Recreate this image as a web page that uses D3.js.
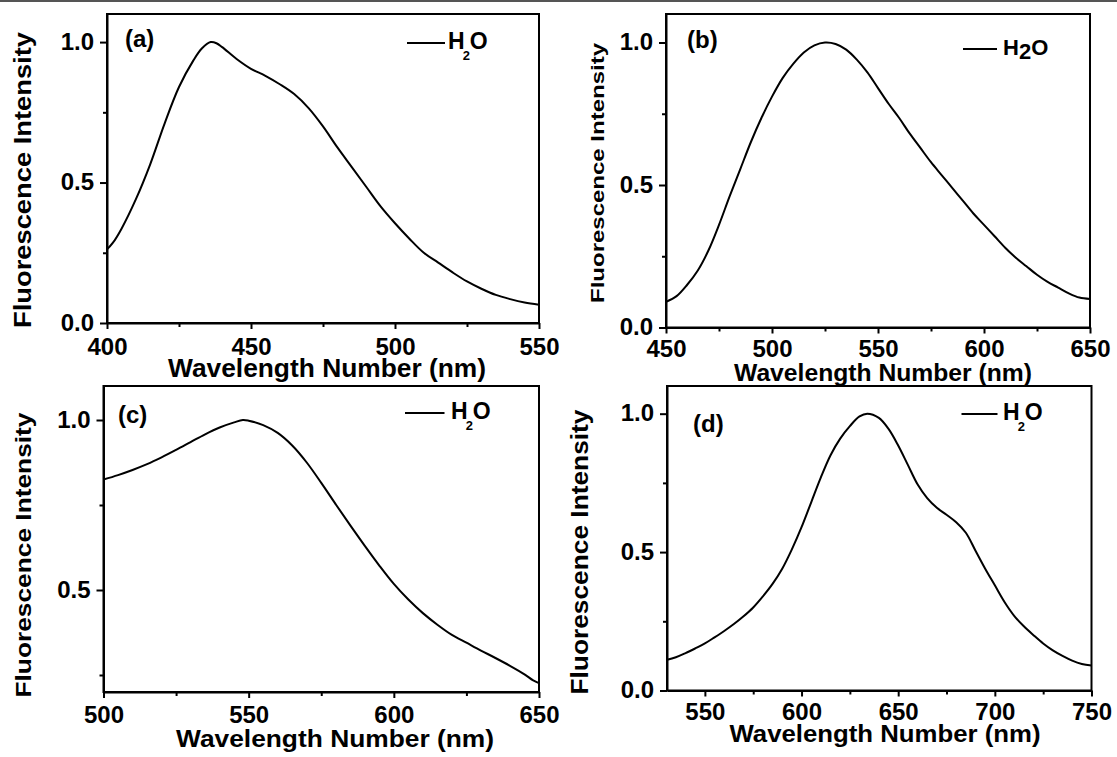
<!DOCTYPE html>
<html>
<head>
<meta charset="utf-8">
<script src="https://cdn.jsdelivr.net/npm/d3@7"></script>
<style>
  body { margin: 0; background: #fff; }
  svg { display: block; }
  text { font-family: "Liberation Sans", Arial, sans-serif; font-weight: bold; fill: #000; }
</style>
</head>
<body>
<div id="chart"></div>
<script>
// Spectra (normalised intensity)
const wavelengthA = [400, 402, 405, 410, 415, 420, 425, 430, 433, 436, 438, 440, 445, 450, 455, 460, 465, 470, 475, 480, 485, 490, 495, 500, 505, 510, 515, 520, 525, 530, 535, 540, 545, 550];
const intensityA  = [0.262, 0.285, 0.335, 0.44, 0.565, 0.71, 0.84, 0.935, 0.978, 1.0, 0.996, 0.982, 0.94, 0.905, 0.88, 0.85, 0.815, 0.765, 0.70, 0.625, 0.555, 0.485, 0.415, 0.355, 0.30, 0.25, 0.215, 0.18, 0.148, 0.122, 0.10, 0.085, 0.073, 0.065];

const wavelengthB = [450, 455, 460, 465, 470, 475, 480, 485, 490, 495, 500, 505, 510, 515, 520, 525, 530, 535, 540, 545, 550, 555, 560, 565, 570, 575, 580, 585, 590, 595, 600, 605, 610, 615, 620, 625, 630, 635, 640, 645, 650];
const intensityB  = [0.09, 0.11, 0.15, 0.20, 0.27, 0.36, 0.46, 0.555, 0.65, 0.735, 0.81, 0.875, 0.925, 0.965, 0.99, 1.0, 0.995, 0.975, 0.94, 0.895, 0.84, 0.785, 0.735, 0.68, 0.63, 0.58, 0.535, 0.49, 0.445, 0.40, 0.36, 0.32, 0.28, 0.245, 0.215, 0.185, 0.16, 0.14, 0.12, 0.105, 0.10];

const wavelengthC = [500, 505, 510, 515, 520, 525, 530, 535, 540, 545, 548, 550, 555, 560, 565, 570, 575, 580, 585, 590, 595, 600, 605, 610, 615, 620, 625, 630, 635, 640, 645, 648, 650];
const intensityC  = [0.825, 0.838, 0.853, 0.87, 0.89, 0.912, 0.935, 0.958, 0.978, 0.993, 1.0, 0.998, 0.985, 0.962, 0.925, 0.875, 0.815, 0.752, 0.69, 0.63, 0.572, 0.518, 0.472, 0.432, 0.398, 0.368, 0.345, 0.322, 0.30, 0.277, 0.252, 0.234, 0.226];

const wavelengthD = [530, 535, 540, 545, 550, 555, 560, 565, 570, 575, 580, 585, 590, 595, 600, 605, 610, 615, 620, 625, 630, 634, 640, 645, 650, 655, 660, 665, 670, 675, 680, 685, 690, 695, 700, 705, 710, 715, 720, 725, 730, 735, 740, 745, 750];
const intensityD  = [0.11, 0.12, 0.135, 0.152, 0.17, 0.192, 0.215, 0.24, 0.268, 0.30, 0.34, 0.385, 0.44, 0.51, 0.59, 0.68, 0.77, 0.85, 0.91, 0.955, 0.99, 1.0, 0.985, 0.945, 0.885, 0.815, 0.745, 0.695, 0.66, 0.635, 0.608, 0.57, 0.505, 0.44, 0.38, 0.32, 0.27, 0.232, 0.20, 0.17, 0.145, 0.125, 0.108, 0.096, 0.09];

// Tick values
const xTicksA = [400, 450, 500, 550], xMinorA = [425, 475, 525];
const xTicksB = [450, 500, 550, 600, 650], xMinorB = [475, 525, 575, 625];
const xTicksC = [500, 550, 600, 650], xMinorC = [525, 575, 625];
const xTicksD = [550, 600, 650, 700, 750], xMinorD = [575, 625, 675, 725];
const yTicksABD = [0.0, 0.5, 1.0], yMinorABD = [0.25, 0.75];
const yTicksC = [0.5, 1.0], yMinorC = [0.25, 0.75];

const panelTags = ["(a)", "(b)", "(c)", "(d)"];
const seriesName = "H2O";
const xTitle = "Wavelength Number (nm)";
const yTitle = "Fluorescence Intensity";

const W = 1117, H = 757;

// layout of each panel (pixel boxes measured on the figure)
const panels = [
  { xs: wavelengthA, ys: intensityA, xDom: [400, 550], yDom: [0, 1.1], xT: xTicksA, xM: xMinorA, yT: yTicksABD, yM: yMinorABD,
    box: [107, 539, 14, 323], tag: [125, 47], leg: [407, 445, 43, 448], sub: "small",
    tickOff: 32, xt: { cx: 327, y: 377, len: 318, fs: 25 }, yt: { x: 31, cy: 180, len: 296, fs: 23 } },
  { xs: wavelengthB, ys: intensityB, xDom: [450, 650], yDom: [0, 1.1], xT: xTicksB, xM: xMinorB, yT: yTicksABD, yM: yMinorABD,
    box: [666, 1090, 14, 327.5], tag: [687, 48], leg: [963, 997, 49, 1003], sub: "big",
    tickOff: 29, xt: { cx: 883, y: 381, len: 298, fs: 24 }, yt: { x: 604, cy: 173, len: 260, fs: 19 } },
  { xs: wavelengthC, ys: intensityC, xDom: [500, 650], yDom: [0.2, 1.1], xT: xTicksC, xM: xMinorC, yT: yTicksC, yM: yMinorC,
    box: [103.5, 539, 386, 692], tag: [118, 423], leg: [405, 444.5, 413, 451], sub: "small",
    tickOff: 31, xt: { cx: 335, y: 747, len: 318, fs: 24 }, yt: { x: 31, cy: 555, len: 285, fs: 22 } },
  { xs: wavelengthD, ys: intensityD, xDom: [530.4, 750], yDom: [0, 1.1], xT: xTicksD, xM: xMinorD, yT: yTicksABD, yM: yMinorABD,
    box: [667, 1091.5, 386, 690.5], tag: [693, 432], leg: [961.5, 997.5, 414, 1003], sub: "small",
    tickOff: 29, xt: { cx: 885, y: 742, len: 311, fs: 24 }, yt: { x: 588, cy: 552, len: 285, fs: 23 } }
];

const svg = d3.select("#chart").append("svg")
  .attr("width", W)
  .attr("height", H);

svg.append("rect").attr("width", W).attr("height", H).attr("fill", "#fff");

// thin grey rule along the top edge
svg.append("line")
  .attr("x1", 0).attr("x2", W).attr("y1", 1).attr("y2", 1)
  .attr("stroke", "#555").attr("stroke-width", 2);

panels.forEach((p, i) => {
  const [x0, x1, y0, y1] = p.box;
  const x = d3.scaleLinear().domain(p.xDom).range([x0, x1]);
  const y = d3.scaleLinear().domain(p.yDom).range([y1, y0]);
  const g = svg.append("g");

  // frame
  g.append("rect")
    .attr("x", x0).attr("y", y0)
    .attr("width", x1 - x0).attr("height", y1 - y0)
    .attr("fill", "none").attr("stroke", "#000").attr("stroke-width", 2);

  // spectrum
  g.append("path")
    .datum(p.xs.map((v, k) => [v, p.ys[k]]))
    .attr("fill", "none")
    .attr("stroke", "#000")
    .attr("stroke-width", 2)
    .attr("stroke-linejoin", "round")
    .attr("d", d3.line().x(d => x(d[0])).y(d => y(d[1])).curve(d3.curveCatmullRom.alpha(0.5)));

  // bottom axis
  const xa = g.append("g")
    .attr("transform", `translate(0,${y1})`)
    .call(d3.axisBottom(x).tickValues(p.xT).tickSize(6).tickSizeOuter(0).tickFormat(d3.format("d")));
  xa.selectAll("text").attr("dy", null).attr("y", p.tickOff).style("font-size", "24px");
  g.append("g")
    .attr("transform", `translate(0,${y1})`)
    .call(d3.axisBottom(x).tickValues(p.xM).tickSize(4).tickFormat(""))
    .select(".domain").remove();

  // left axis
  const ya = g.append("g")
    .attr("transform", `translate(${x0},0)`)
    .call(d3.axisLeft(y).tickValues(p.yT).tickSize(7).tickPadding(6).tickSizeOuter(0).tickFormat(d3.format(".1f")));
  ya.selectAll("text").attr("dy", "0.3em").style("font-size", "24px");
  g.append("g")
    .attr("transform", `translate(${x0},0)`)
    .call(d3.axisLeft(y).tickValues(p.yM).tickSize(4).tickFormat(""))
    .select(".domain").remove();

  g.selectAll(".domain").attr("stroke-width", 2);
  g.selectAll(".tick line").attr("stroke-width", 2);
  g.selectAll(".tick text").attr("fill", "#000").style("font-family", '"Liberation Sans", Arial, sans-serif').style("font-weight", "bold");

  // axis titles
  g.append("text")
    .attr("x", p.xt.cx).attr("y", p.xt.y)
    .attr("text-anchor", "middle")
    .attr("textLength", p.xt.len).attr("lengthAdjust", "spacingAndGlyphs")
    .style("font-size", p.xt.fs + "px")
    .text(xTitle);

  g.append("text")
    .attr("transform", `translate(${p.yt.x},${p.yt.cy}) rotate(-90)`)
    .attr("text-anchor", "middle")
    .attr("textLength", p.yt.len).attr("lengthAdjust", "spacingAndGlyphs")
    .style("font-size", p.yt.fs + "px")
    .text(yTitle);

  // panel tag
  g.append("text")
    .attr("x", p.tag[0]).attr("y", p.tag[1])
    .style("font-size", "24px")
    .text(panelTags[i]);

  // legend
  const [lx0, lx1, ly, tx] = p.leg;
  g.append("line")
    .attr("x1", lx0).attr("x2", lx1).attr("y1", ly).attr("y2", ly)
    .attr("stroke", "#000").attr("stroke-width", 2);
  const lt = g.append("text")
    .attr("x", tx).attr("y", ly + 6)
    .style("font-size", (p.sub === "big" ? 22 : 23) + "px");
  lt.append("tspan").text(seriesName[0]);
  if (p.sub === "big") {
    lt.append("tspan").attr("dy", 4).text(seriesName[1]);
    lt.append("tspan").attr("dy", -4).text(seriesName[2]);
  } else {
    lt.append("tspan").attr("dy", 11).attr("dx", -2).style("font-size", "13px").text(seriesName[1]);
    lt.append("tspan").attr("dy", -11).text(seriesName[2]);
  }
});
</script>
</body>
</html>
